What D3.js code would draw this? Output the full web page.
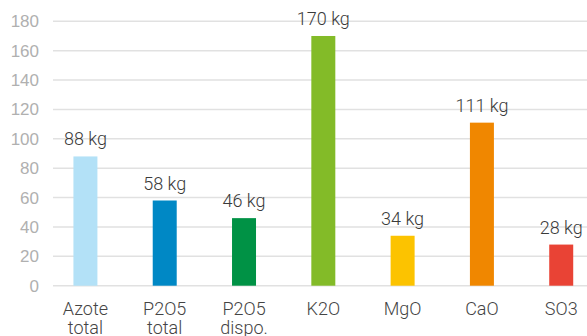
<!DOCTYPE html>
<html>
<head>
<meta charset="utf-8">
<script src="https://cdn.jsdelivr.net/npm/d3@7"></script>
<style>
  html, body { margin: 0; padding: 0; background: #fff; }
  svg { display: block; font-family: Roboto, "DejaVu Sans Condensed", sans-serif; font-weight: 300; }
</style>
</head>
<body>
<svg id="chart" width="587" height="336"></svg>
<script>
// Nutrient quantities (kg)
const categories = [["Azote", "total"], ["P2O5", "total"], ["P2O5", "dispo."], ["K2O"], ["MgO"], ["CaO"], ["SO3"]];
const values = [88, 58, 46, 170, 34, 111, 28];
const colors = ["#b3e1f7", "#0088c5", "#009245", "#83bb28", "#fcc300", "#f08700", "#e94335"];
const yTicks = [0, 20, 40, 60, 80, 100, 120, 140, 160, 180];

const svg = d3.select("#chart");
const W = 587;

const y = d3.scaleLinear().domain([0, 180]).range([285.7, 21.3]);
const keys = categories.map((c, i) => i);
const x = d3.scaleBand().domain(keys).range([45.67, 600.97]).paddingInner(0.6975).paddingOuter(0.35);

// Gridlines
svg.append("g").selectAll("line").data(yTicks).join("line")
  .attr("x1", 53).attr("x2", W)
  .attr("y1", d => y(d)).attr("y2", d => y(d))
  .attr("stroke", "#e1e1e1").attr("stroke-width", 1.5);

// Y axis labels
const yAxis = svg.append("g").attr("transform", "translate(39,0)")
  .call(d3.axisLeft(y).tickValues(yTicks).tickSize(0).tickPadding(0));
yAxis.select(".domain").remove();
yAxis.selectAll("text")
  .attr("font-family", null)
  .attr("font-size", 17).attr("fill", "#b0b0b0");

// Bars
svg.append("g").selectAll("rect").data(values).join("rect")
  .attr("x", (d, i) => x(i))
  .attr("width", x.bandwidth())
  .attr("y", d => y(d))
  .attr("height", d => y(0) - y(d))
  .attr("fill", (d, i) => colors[i]);

// Value labels
svg.append("g").selectAll("text").data(values).join("text")
  .attr("x", (d, i) => x(i) + x.bandwidth() / 2)
  .attr("y", d => y(d) - 11)
  .attr("text-anchor", "middle")
  .attr("font-size", 18).attr("fill", "#3a3a3a")
  .text(d => d + " kg");

// Category labels
const cat = svg.append("g").selectAll("text").data(categories).join("text")
  .attr("x", (d, i) => x(i) + x.bandwidth() / 2)
  .attr("y", 315)
  .attr("text-anchor", "middle")
  .attr("font-size", 18).attr("fill", "#444");
cat.selectAll("tspan").data(d => d).join("tspan")
  .attr("x", function () { return this.parentNode.getAttribute("x"); })
  .attr("dy", (d, i) => i === 0 ? 0 : 19)
  .text(d => d);
</script>
</body>
</html>
